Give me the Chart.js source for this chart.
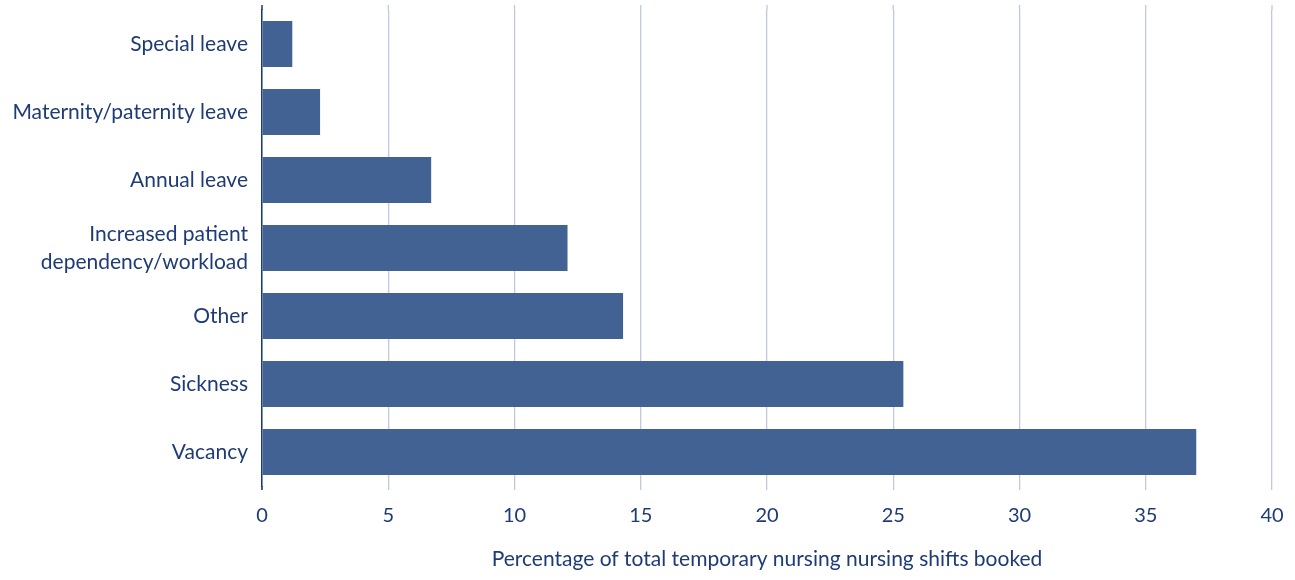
<!DOCTYPE html>
<html>
<head>
<meta charset="utf-8">
<script src="https://cdn.jsdelivr.net/npm/chart.js@4.4.1/dist/chart.umd.min.js"></script>
<style>
  html, body { margin: 0; padding: 0; background: #ffffff; }
  #wrap { width: 1295px; height: 580px; position: relative; }
</style>
</head>
<body>
<div id="wrap"><canvas id="reasonsChart"></canvas></div>
<script>
// Reasons for booking temporary nursing shifts
const reasons = [
    'Special leave',
    'Maternity/paternity leave',
    'Annual leave',
    ['Increased patient', 'dependency/workload'],
    'Other',
    'Sickness',
    'Vacancy'
];
const shiftShare = [1.2, 2.3, 6.7, 12.1, 14.3, 25.4, 37.0];
const xTicks = [0, 5, 10, 15, 20, 25, 30, 35, 40];

const barColor = '#416293';
const textColor = '#1f3b77';
const axisColor = '#1b3a78';
const gridColor = '#bfcadc';

// Gridlines and the axis line run a little past the plot area top and bottom
const extendLines = {
    id: 'extendLines',
    beforeDatasetsDraw(chart) {
        const { ctx, chartArea, scales: { x } } = chart;
        ctx.save();
        x.ticks.forEach((t, i) => {
            const px = x.getPixelForTick(i);
            ctx.beginPath();
            ctx.lineWidth = i === 0 ? 1.5 : 1.3;
            ctx.strokeStyle = i === 0 ? axisColor : gridColor;
            ctx.moveTo(px, chartArea.top - 5);
            ctx.lineTo(px, chartArea.top);
            if (i === 0) {
                ctx.moveTo(px, chartArea.bottom);
                ctx.lineTo(px, chartArea.bottom + 4);
            }
            ctx.stroke();
        });
        ctx.restore();
    }
};

const ctx = document.getElementById('reasonsChart');
new Chart(ctx, {
    type: 'bar',
    data: {
        labels: reasons,
        datasets: [{
            data: shiftShare,
            backgroundColor: barColor,
            borderWidth: 0,
            barPercentage: 0.68,
            categoryPercentage: 1.0
        }]
    },
    plugins: [extendLines],
    options: {
        indexAxis: 'y',
        responsive: true,
        maintainAspectRatio: false,
        animation: false,
        layout: { padding: { top: 10, right: 23, bottom: 0, left: 0 } },
        plugins: {
            legend: { display: false },
            tooltip: { enabled: false }
        },
        scales: {
            x: {
                min: 0,
                max: 40,
                afterBuildTicks: scale => {
                    scale.ticks = xTicks.map(v => ({ value: v }));
                },
                afterFit: scale => {
                    scale.height = 94;
                    scale.paddingLeft = 0;
                    scale.paddingRight = 0;
                },
                grid: {
                    color: gridColor,
                    lineWidth: 1.3,
                    drawTicks: true,
                    tickLength: 4
                },
                border: { display: false },
                ticks: {
                    color: textColor,
                    font: { family: 'Lato', size: 20 },
                    padding: 14,
                    maxRotation: 0
                },
                title: {
                    display: true,
                    text: 'Percentage of total temporary nursing nursing shifts booked',
                    color: textColor,
                    font: { family: 'Lato', size: 21 },
                    padding: { top: 0, bottom: 8 }
                }
            },
            y: {
                afterFit: scale => {
                    scale.width = 262;
                    scale.paddingTop = 0;
                    scale.paddingBottom = 0;
                },
                grid: { display: false, drawTicks: false },
                border: { display: true, color: axisColor, width: 1.5 },
                ticks: {
                    color: textColor,
                    font: { family: 'Lato', size: 21, lineHeight: 1.33 },
                    padding: 14
                }
            }
        }
    }
});
</script>
</body>
</html>
